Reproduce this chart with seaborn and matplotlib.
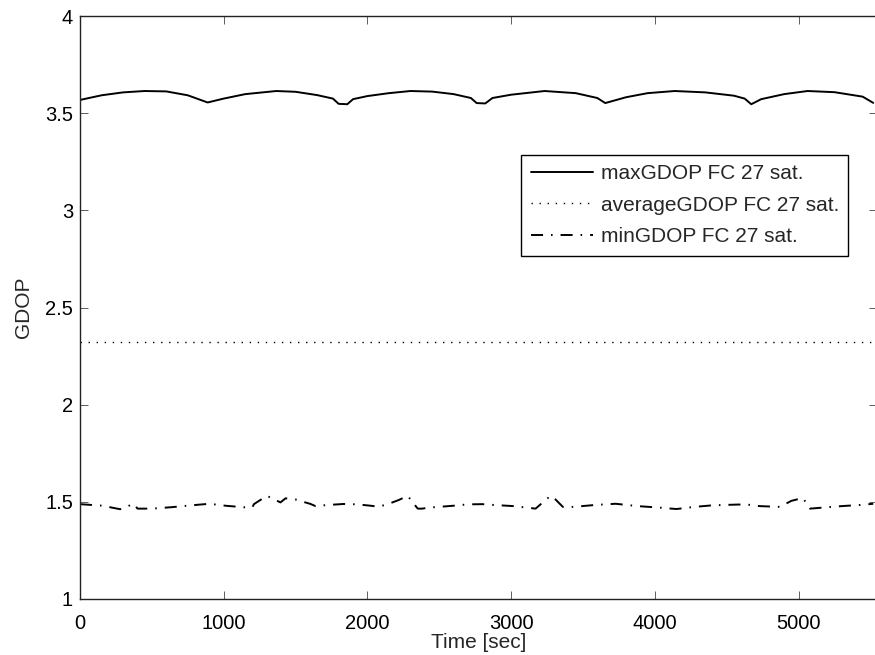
import numpy as np
import pandas as pd
import matplotlib
matplotlib.use('Agg')
import matplotlib.pyplot as plt
import seaborn as sns
from matplotlib.ticker import FuncFormatter

# Values
max_time = [0, 150, 300, 450, 600, 750, 888, 1000, 1150, 1366, 1500, 1650, 1760,
            1800, 1860, 1900, 2000, 2150, 2300, 2450, 2600, 2720, 2760, 2820, 2870,
            3000, 3233, 3450, 3600, 3655, 3800, 3950, 4138, 4350, 4550, 4625, 4671,
            4740, 4900, 5063, 5250, 5446, 5520]
max_gdop = [3.568, 3.592, 3.607, 3.614, 3.612, 3.592, 3.555, 3.575, 3.598, 3.614,
            3.610, 3.593, 3.575, 3.548, 3.546, 3.572, 3.588, 3.603, 3.614, 3.611,
            3.598, 3.578, 3.552, 3.550, 3.578, 3.595, 3.614, 3.603, 3.578, 3.552,
            3.582, 3.603, 3.614, 3.607, 3.590, 3.575, 3.546, 3.572, 3.598, 3.614,
            3.608, 3.585, 3.553]

avg_time = [0, 5540]
avg_gdop = [2.32, 2.32]

min_time = [0, 160, 224, 280, 375, 400, 500, 630, 790, 900, 1012, 1140, 1200, 1210,
            1300, 1395, 1430, 1500, 1604, 1639, 1709, 1834, 1929, 2022, 2077, 2138,
            2217, 2280, 2350, 2381, 2425, 2600, 2700, 2800, 2878, 3016, 3100, 3170,
            3274, 3309, 3360, 3431, 3587, 3727, 3880, 4018, 4150, 4276, 4400, 4575,
            4643, 4728, 4870, 4950, 5030, 5080, 5230, 5300, 5430, 5520]
min_gdop = [1.488, 1.480, 1.470, 1.462, 1.490, 1.465, 1.465, 1.472, 1.483, 1.490,
            1.480, 1.472, 1.472, 1.488, 1.531, 1.497, 1.518, 1.512, 1.489, 1.478,
            1.483, 1.489, 1.487, 1.480, 1.475, 1.487, 1.509, 1.531, 1.465, 1.465,
            1.470, 1.480, 1.487, 1.488, 1.484, 1.478, 1.471, 1.465, 1.531, 1.512,
            1.474, 1.474, 1.484, 1.490, 1.478, 1.471, 1.463, 1.474, 1.482, 1.486,
            1.486, 1.478, 1.474, 1.505, 1.520, 1.465, 1.474, 1.478, 1.484, 1.490]

series_labels = ['maxGDOP FC 27 sat.', 'averageGDOP FC 27 sat.', 'minGDOP FC 27 sat.']
y_ticks = [1, 1.5, 2, 2.5, 3, 3.5, 4]
x_ticks = [0, 1000, 2000, 3000, 4000, 5000]

sns.set_theme(style='ticks')
plt.rcParams['font.family'] = ['Liberation Sans', 'DejaVu Sans']

fig = plt.figure(figsize=(8.75, 6.55), dpi=100)
# right edge of the axes sits just past the canvas, as in the reference
ax = fig.add_axes([80 / 875, 56 / 655, 797 / 875, 583 / 655])

df_max = pd.DataFrame({'t': max_time, 'g': max_gdop})
df_avg = pd.DataFrame({'t': avg_time, 'g': avg_gdop})
df_min = pd.DataFrame({'t': min_time, 'g': min_gdop})

sns.lineplot(data=df_max, x='t', y='g', ax=ax, color='black', lw=1.4,
             linestyle='-', label=series_labels[0])
sns.lineplot(data=df_avg, x='t', y='g', ax=ax, color='black', lw=1.0,
             linestyle=(0, (1, 4.8)), label=series_labels[1])
sns.lineplot(data=df_min, x='t', y='g', ax=ax, color='black', lw=1.4,
             linestyle=(0, (6.2, 4.1, 0.8, 4.1)), label=series_labels[2])

ax.set_xlim(0, 5546)
ax.set_ylim(1, 4)
ax.set_xticks(x_ticks)
ax.set_yticks(y_ticks)
ax.yaxis.set_major_formatter(FuncFormatter(lambda v, p: f'{v:g}'))
ax.tick_params(direction='in', length=5.5, width=0.6, labelsize=14.5,
               top=True, right=True, colors='#444444', labelcolor='black')
ax.tick_params(axis='x', pad=10.5)
ax.tick_params(axis='y', pad=5)
for sp in ax.spines.values():
    sp.set_color('#222222')
    sp.set_linewidth(1.0)

ax.set_xlabel('Time [sec]', fontsize=15, labelpad=0)
ax.set_ylabel('GDOP', fontsize=15, labelpad=9)

leg = ax.legend(loc='upper right', bbox_to_anchor=(0.964, 0.762), fontsize=15,
                frameon=True, fancybox=False, edgecolor='black', framealpha=1,
                handlelength=3.0, handletextpad=0.35, borderpad=0.45,
                labelspacing=0.6, borderaxespad=0)
leg.get_frame().set_linewidth(1.0)

fig.savefig('out.png', dpi=100)
